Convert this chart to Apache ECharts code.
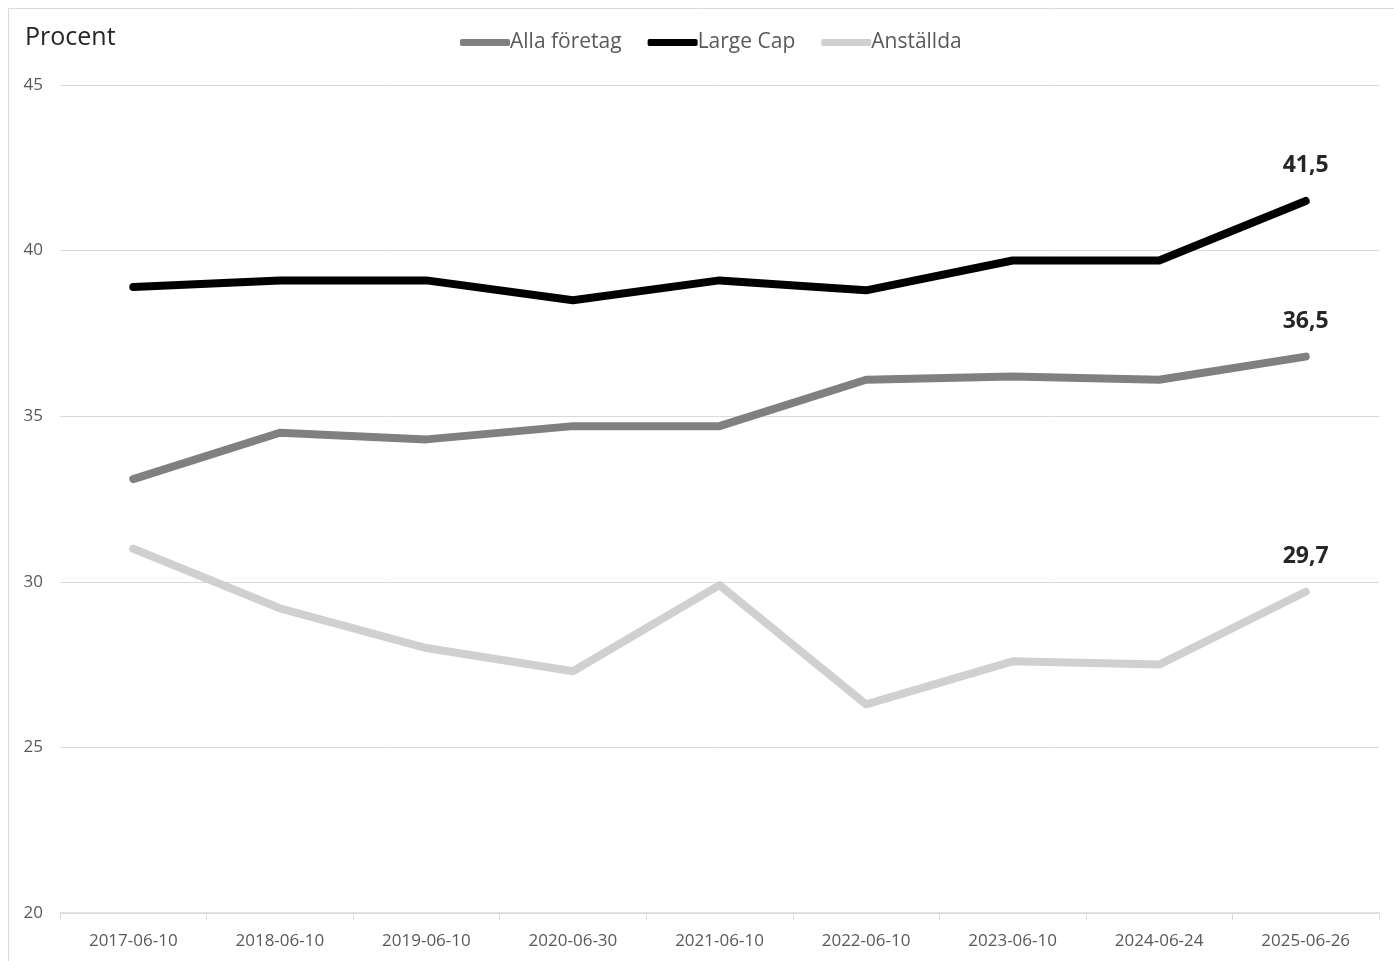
<!DOCTYPE html>
<html>
<head>
<meta charset="utf-8">
<script src="https://cdn.jsdelivr.net/npm/echarts@6/dist/echarts.min.js"></script>
<style>
  html, body { margin: 0; padding: 0; background: #fff; }
  #chart { width: 1394px; height: 961px; }
</style>
</head>
<body>
<div id="chart"></div>
<script>
const categories = ["2017-06-10", "2018-06-10", "2019-06-10", "2020-06-30", "2021-06-10", "2022-06-10", "2023-06-10", "2024-06-24", "2025-06-26"];
const allaForetag = [33.1, 34.5, 34.3, 34.7, 34.7, 36.1, 36.2, 36.1, 36.8];
const largeCap = [38.9, 39.1, 39.1, 38.5, 39.1, 38.8, 39.7, 39.7, 41.5];
const anstallda = [31.0, 29.2, 28.0, 27.3, 29.9, 26.3, 27.6, 27.5, 29.7];
// labels shown on the last point (text as printed in the source)
const lastLabels = { "Alla företag": "36,5", "Large Cap": "41,5", "Anställda": "29,7" };
const yTicks = [20, 25, 30, 35, 40, 45];

const font = "'Open Sans', 'Noto Sans', sans-serif";
const chart = echarts.init(document.getElementById("chart"), null, { renderer: "canvas" });

function lineSeries(name, data, color) {
  return {
    name, type: "line", data,
    symbol: "circle", symbolSize: 1, showSymbol: true, showAllSymbol: true,
    lineStyle: { width: 8, color, cap: "round", join: "round" },
    itemStyle: { color },
    label: {
      show: true, position: "top", distance: 23,
      fontFamily: font, fontSize: 23, fontWeight: "bold", color: "#262626",
      formatter: (p) => (p.dataIndex === data.length - 1 ? lastLabels[name] : "")
    },
    emphasis: { disabled: true },
    animation: false
  };
}

chart.setOption({
  animation: false,
  backgroundColor: "#fff",
  graphic: [
    { type: "rect", shape: { x: 8.5, y: 8.5, width: 1400, height: 960 }, style: { fill: "none", stroke: "#d9d9d9", lineWidth: 1 } }
  ],
  title: {
    text: "Procent", left: 20, top: 20,
    textStyle: { fontFamily: font, fontSize: 25, fontWeight: "normal", color: "#262626" }
  },
  legend: {
    top: 27, left: 455,
    icon: "roundRect", itemWidth: 50, itemHeight: 7, itemGap: 26,
    textStyle: { fontFamily: font, fontSize: 21, color: "#595959", padding: [0, 0, 0, -5] },
    data: ["Alla företag", "Large Cap", "Anställda"]
  },
  grid: { left: 60, right: 15, top: 85, bottom: 48, containLabel: false },
  xAxis: {
    type: "category", data: categories, boundaryGap: true,
    axisLine: { lineStyle: { color: "#d9d9d9", width: 1.5 } },
    axisTick: { show: true, length: 7, lineStyle: { color: "#d9d9d9" } },
    axisLabel: { fontFamily: font, fontSize: 17, color: "#595959", margin: 20 }
  },
  yAxis: {
    type: "value", min: yTicks[0], max: yTicks[yTicks.length - 1], interval: 5,
    axisLine: { show: false }, axisTick: { show: false },
    axisLabel: { fontFamily: font, fontSize: 17, color: "#595959", margin: 17 },
    splitLine: { lineStyle: { color: "#d9d9d9", width: 1 } }
  },
  series: [
    lineSeries("Alla företag", allaForetag, "#808080"),
    lineSeries("Large Cap", largeCap, "#000000"),
    lineSeries("Anställda", anstallda, "#d0d0d0")
  ]
});
</script>
</body>
</html>
